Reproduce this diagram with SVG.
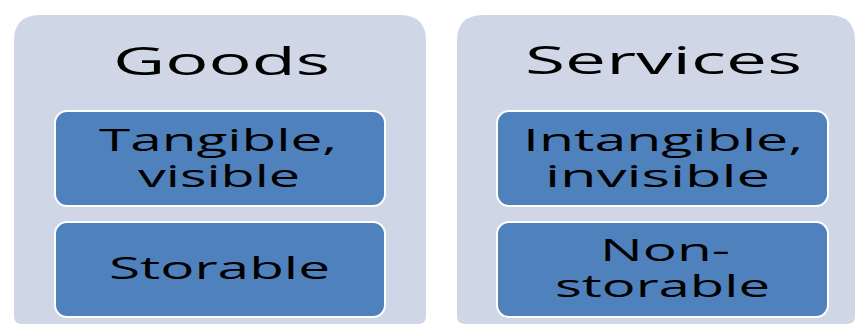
<svg xmlns="http://www.w3.org/2000/svg" width="857" height="325" viewBox="0 0 857 325">
<style>
.panel{fill:#CFD7E6;}
.box{fill:#4F81BD;stroke:#FFFFFF;stroke-width:2;}
.t{font-family:"Open Sans","Liberation Sans",sans-serif;fill:#000000;text-anchor:start;}
.h{font-size:38px;}
.b{font-size:31px;}
</style>
<rect width="857" height="325" fill="#FFFFFF"/>
<g id="goods">
<path class="panel" d="M14,41 Q14,15 40,15 L400,15 Q426,15 426,41 L426,316 Q426,324 418,324 L22,324 Q14,324 14,316 Z"/>
<text class="t h" x="113" y="75" textLength="217" lengthAdjust="spacingAndGlyphs">Goods</text>
</g>
<g id="goods-tangible">
<rect class="box" x="55" y="111" width="330" height="95" rx="12"/>
<text class="t b" x="99" y="151" textLength="238" lengthAdjust="spacingAndGlyphs">Tangible,</text>
<text class="t b" x="138" y="187" textLength="162" lengthAdjust="spacingAndGlyphs">visible</text>
</g>
<g id="goods-storable">
<rect class="box" x="55" y="222" width="330" height="95" rx="12"/>
<text class="t b" x="109" y="279" textLength="221" lengthAdjust="spacingAndGlyphs">Storable</text>
</g>
<g id="services">
<path class="panel" d="M457,41 Q457,15 483,15 L829,15 Q855,15 855,41 L855,316 Q855,324 847,324 L465,324 Q457,324 457,316 Z"/>
<text class="t h" x="525" y="74" textLength="277" lengthAdjust="spacingAndGlyphs">Services</text>
</g>
<g id="services-intangible">
<rect class="box" x="497" y="111" width="331" height="95" rx="12"/>
<text class="t b" x="523" y="151" textLength="280" lengthAdjust="spacingAndGlyphs">Intangible,</text>
<text class="t b" x="545" y="187" textLength="225" lengthAdjust="spacingAndGlyphs">invisible</text>
</g>
<g id="services-nonstorable">
<rect class="box" x="497" y="222" width="331" height="95" rx="12"/>
<text class="t b" x="600" y="261" textLength="130" lengthAdjust="spacingAndGlyphs">Non-</text>
<text class="t b" x="555" y="297" textLength="215" lengthAdjust="spacingAndGlyphs">storable</text>
</g>
<g id="connectors"></g>
</svg>
